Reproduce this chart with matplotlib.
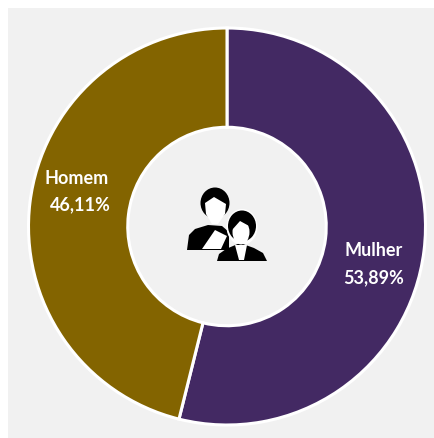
import matplotlib
matplotlib.use('Agg')
import matplotlib.pyplot as plt
from matplotlib.patches import Ellipse, Polygon, Rectangle

labels = ['Mulher', 'Homem']
values = [53.89, 46.11]
pct_labels = ['53,89%', '46,11%']
colors = ['#432963', '#836400']

plt.rcParams['font.family'] = ['Lato', 'DejaVu Sans']

# work in pixels, y going down, same as the reference picture
fig = plt.figure(figsize=(4.35, 4.38), dpi=100, facecolor='white')
bg = fig.add_axes([0, 0, 1, 1])
bg.set_xlim(0, 435)
bg.set_ylim(438, 0)
bg.axis('off')
bg.add_patch(Rectangle((8, 8), 427, 430, fc='#f1f1f1', ec='none'))

# pie axes sized so the radius 1 circle lands on r=198.5 px around (227,226.5)
cx, cy, r = 227, 226.5, 198.5
ax = fig.add_axes([(cx - r) / 435, 1 - (cy + r) / 438, 2 * r / 435, 2 * r / 438])
ax.pie(values, colors=colors, startangle=90, counterclock=False, radius=1,
       wedgeprops=dict(width=0.5, edgecolor='white', linewidth=2.2))
ax.set_xlim(-1, 1)
ax.set_ylim(-1, 1)

# top layer for text and the icon
ov = fig.add_axes([0, 0, 1, 1])
ov.set_xlim(0, 435)
ov.set_ylim(438, 0)
ov.axis('off')

ov.text(373.5, 251, labels[0], color='white', fontsize=13, fontweight='bold', ha='center', va='center')
ov.text(373.5, 278, pct_labels[0], color='white', fontsize=13, fontweight='bold', ha='center', va='center')
ov.text(77, 179, labels[1], color='white', fontsize=13, fontweight='bold', ha='center', va='center')
ov.text(80, 205, pct_labels[1], color='white', fontsize=13, fontweight='bold', ha='center', va='center')

# people icon in the middle
# man
ov.add_patch(Polygon([(187, 250), (189, 235), (195, 229), (208, 225), (222, 226), (229, 232),
                      (229, 250)], fc='black', ec='none', zorder=2))
ov.add_patch(Polygon([(202, 249), (215, 230), (227, 236), (221, 249)], fc='white', ec='none', zorder=3))
ov.add_patch(Ellipse((215, 203), 29, 31, fc='black', ec='none', zorder=3))
ov.add_patch(Polygon([(205, 203), (214, 197), (226, 204), (225, 214), (218, 224), (212, 224), (206, 214)],
                     fc='white', ec='none', zorder=4))
# woman
ov.add_patch(Ellipse((242, 227), 31, 36, fc='white', ec='none', zorder=5))
ov.add_patch(Ellipse((242, 226), 28, 31, fc='black', ec='none', zorder=5))
ov.add_patch(Polygon([(217, 261), (219, 254), (226, 249), (240, 243), (254, 248), (263, 253),
                      (267, 261)], fc='black', ec='none', zorder=5))
ov.add_patch(Polygon([(235, 245), (247, 245), (244, 260), (239, 260)], fc='white', ec='none', zorder=6))
ov.add_patch(Ellipse((241, 232), 17, 25, fc='white', ec='none', zorder=6))
ov.add_patch(Polygon([(232, 230), (240, 221), (251, 227), (249, 220), (240, 216), (232, 221)],
                     fc='black', ec='none', zorder=7))

fig.savefig('out.png', dpi=100, facecolor='white')
